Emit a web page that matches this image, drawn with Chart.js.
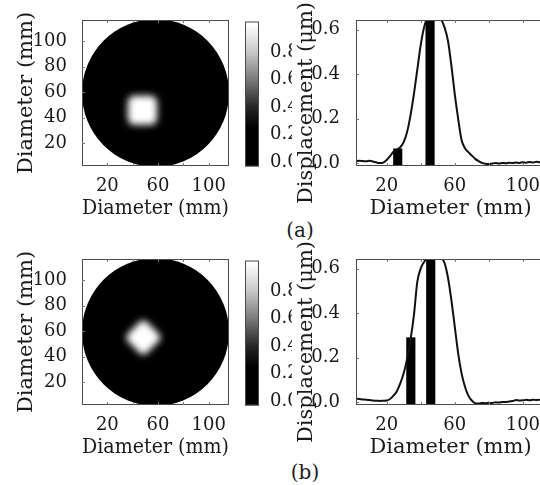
<!DOCTYPE html>
<html>
<head>
<meta charset="utf-8">
<script src="https://cdn.jsdelivr.net/npm/chart.js"></script>
<style>
  body{margin:0;width:540px;height:485px;overflow:hidden;position:relative;background:#fff;}
  .tag{position:absolute;font-family:'DejaVu Serif',serif;font-size:20px;color:#1e1e1e;transform:translate(-50%,-50%);}
</style>
</head>
<body>

<div class="tag" style="left:300px;top:230px">(a)</div>
<div class="tag" style="left:305px;top:472px">(b)</div>

<script>

// =====================
// DATA
// =====================

const diameterTicks = [20, 40, 60, 80, 100];
const diameterLabels = [20, 60, 100];
const colourTicks = [0, 0.2, 0.4, 0.6, 0.8];
const dispTicks = [0, 0.2, 0.4, 0.6];

const mapRangeX = [0, 116];
const mapRangeY = [2, 116.5];
const colourRange = [-0.03, 1.02];
const profileRangeX = [2, 113];
const dispRange = [-0.012, 0.643];

// sample disk (mm)
const diskCentre = [58, 59.25];
const diskRadius = 58;

// bright spot (mm)
const spotCentreA = [47.7, 45.7];
const spotHalfA = 11.5;
const spotCentreB = [48.4, 54.9];
const spotHalfB = 15;
const spotSoftness = 2.9;

// displacement profiles
const profileX = [2,4,6,8,10,12,14,16,18,20,22,24,26,28,30,32,34,36,38,40,
  42,44,46,48,50,52,54,56,58,60,62,64,66,68,70,72,74,76,78,80,
  82,84,86,88,90,92,94,96,98,100,102,104,106,108,110,112];

const profileA = [.010,.011,.010,.009,.011,.008,.004,.001,.003,.015,
  .032,.052,.062,.072,.095,.14,.215,.31,.42,.53,
  .61,.655,.67,.67,.66,.645,.61,.55,.44,.31,
  .20,.105,.068,.05,.035,.02,.01,.002,-.002,-.003,
  -.001,.001,-.001,.002,.000,.003,.001,.004,.002,.005,
  .003,.006,.004,.007,.005,.006];

const profileB = [.016,.015,.013,.012,.010,.008,.007,.006,.007,.008,
  .015,.03,.05,.085,.13,.195,.28,.39,.54,.60,
  .63,.65,.67,.67,.665,.65,.625,.56,.46,.34,
  .22,.13,.07,.03,.008,-.004,-.005,-.003,-.004,-.002,
  -.003,.000,-.001,.002,.001,.004,.006,.01,.008,.009,
  .011,.009,.012,.010,.012,.011];

// marker bars
const markerPosA = [26.5, 45.5];
const markerTopA = [0.065, 0.7];
const markerPosB = [34.2, 45.9];
const markerTopB = [0.29, 0.7];

const colourStops = [[0,'#000'],[0.25,'#000'],[0.4,'#262626'],[0.6,'#7a7a7a'],[0.8,'#c8c8c8'],[1,'#fff']];


// =====================
// DEFAULTS
// =====================

Chart.defaults.font.family = "'DejaVu Serif', serif";
Chart.defaults.font.size = 18;
Chart.defaults.color = '#1a1a1a';
Chart.defaults.animation = false;
Chart.defaults.plugins.legend.display = false;
Chart.defaults.plugins.tooltip.enabled = false;


// =====================
// PLUGINS
// =====================

const framePlugin = {
  id:'frame',
  afterDatasetsDraw(chart){
    const {ctx, chartArea:a, scales} = chart;
    ctx.save();
    ctx.strokeStyle = '#4a4a4a';
    ctx.lineWidth = 1;
    ctx.strokeRect(a.left+0.5, a.top+0.5, a.right-a.left-1, a.bottom-a.top-1);
    if(scales.x.type === 'linear'){
      ctx.strokeStyle = '#777';
      ctx.beginPath();
      scales.x.ticks.forEach(t=>{
        const px = Math.round(scales.x.getPixelForValue(t.value))+0.5;
        ctx.moveTo(px, a.bottom); ctx.lineTo(px, a.bottom-3);
        ctx.moveTo(px, a.top); ctx.lineTo(px, a.top+3);
      });
      scales.y.ticks.forEach(t=>{
        const py = Math.round(scales.y.getPixelForValue(t.value))+0.5;
        ctx.moveTo(a.left, py); ctx.lineTo(a.left+3, py);
      });
      ctx.stroke();
    }
    ctx.restore();
  }
};

function mapPlugin(centre, half, shape){
  return {
    id:'map',
    beforeDatasetsDraw(chart){
      const {ctx, chartArea:a, scales:{x, y}} = chart;
      ctx.save();
      ctx.beginPath();
      ctx.rect(a.left, a.top, a.right-a.left, a.bottom-a.top);
      ctx.clip();

      // disk
      const cx = x.getPixelForValue(diskCentre[0]);
      const cy = y.getPixelForValue(diskCentre[1]);
      const rx = Math.abs(x.getPixelForValue(diskCentre[0]+diskRadius)-cx);
      const ry = Math.abs(y.getPixelForValue(diskCentre[1]+diskRadius)-cy);
      ctx.fillStyle = '#000';
      ctx.beginPath();
      ctx.ellipse(cx, cy, rx, ry, 0, 0, Math.PI*2);
      ctx.fill();

      // spot
      const sx = x.getPixelForValue(centre[0]);
      const sy = y.getPixelForValue(centre[1]);
      const h = Math.abs(x.getPixelForValue(centre[0]+half)-sx);
      const blur = Math.abs(x.getPixelForValue(spotSoftness)-x.getPixelForValue(0));
      ctx.filter = `blur(${blur}px)`;
      ctx.fillStyle = '#fff';
      ctx.translate(sx, sy);
      ctx.beginPath();
      if(shape === 'diamond'){
        const s = h/Math.SQRT2;
        ctx.rotate(Math.PI/4);
        ctx.roundRect(-s, -s, 2*s, 2*s, s*0.35);
      } else {
        ctx.roundRect(-h, -h, 2*h, 2*h, h*0.45);
      }
      ctx.fill();
      ctx.restore();
    }
  };
}


// =====================
// HELPERS
// =====================

function makeCanvas(left, top, w, h){
  const c = document.createElement('canvas');
  c.width = w; c.height = h;
  c.style.cssText = `position:absolute;left:${left}px;top:${top}px;width:${w}px;height:${h}px`;
  document.body.appendChild(c);
  return c;
}

function fixedTicks(list){
  return s => { s.ticks = list.map(v=>({value:v})); };
}

function axisTitle(text, pad){
  return {display:true, text:text, font:{size:21}, padding:pad};
}


// =====================
// HEATMAP
// =====================

function drawMap(top, centre, half, shape){
  new Chart(makeCanvas(0, top, 235, 222), {
    type:'scatter',
    data:{datasets:[{data:[]}]},
    options:{
      responsive:false,
      layout:{padding:{top:20, right:6, left:0, bottom:0}},
      scales:{
        x:{
          type:'linear', min:mapRangeX[0], max:mapRangeX[1],
          afterFit: s=>{ s.height = 56; },
          afterBuildTicks: fixedTicks(diameterTicks),
          grid:{display:false}, border:{display:false},
          ticks:{padding:2, maxRotation:0, autoSkip:false, callback: v => diameterLabels.includes(v) ? String(v) : ''},
          title: axisTitle('Diameter (mm)', {top:0, bottom:1})
        },
        y:{
          type:'linear', min:mapRangeY[0], max:mapRangeY[1],
          afterFit: s=>{ s.width = 82; },
          afterBuildTicks: fixedTicks(diameterTicks),
          grid:{display:false}, border:{display:false},
          ticks:{padding:7, autoSkip:false, callback: v => String(v)},
          title: axisTitle('Diameter (mm)', {top:14, bottom:0})
        }
      }
    },
    plugins:[mapPlugin(centre, half, shape), framePlugin]
  });
}


// =====================
// COLOURBAR
// =====================

function colourFill(chart){
  const y = chart.scales.y;
  if(!chart.chartArea || !y) return '#000';
  const g = chart.ctx.createLinearGradient(0, y.getPixelForValue(0), 0, y.getPixelForValue(1));
  colourStops.forEach(s => g.addColorStop(s[0], s[1]));
  return g;
}

function drawColourbar(top){
  new Chart(makeCanvas(236, top, 56, 222), {
    type:'bar',
    data:{
      labels:[''],
      datasets:[{data:[colourRange], backgroundColor: ctx => colourFill(ctx.chart), barPercentage:1, categoryPercentage:1}]
    },
    options:{
      responsive:false,
      layout:{padding:{left:9, top:21.5, bottom:55.5, right:0}},
      scales:{
        x:{display:false},
        y:{
          position:'right', min:colourRange[0], max:colourRange[1],
          afterFit: s=>{ s.width = 33; },
          afterBuildTicks: fixedTicks(colourTicks),
          grid:{display:false}, border:{display:false},
          ticks:{padding:3, autoSkip:false, callback: v => v.toFixed(1)}
        }
      }
    },
    plugins:[framePlugin]
  });
}


// =====================
// PROFILE
// =====================

function drawProfile(top, values, markerPos, markerTop){
  new Chart(makeCanvas(292, top, 258, 222), {
    type:'line',
    data:{
      datasets:[
        {
          type:'line',
          data: profileX.map((x,i)=>({x:x, y:values[i]})),
          borderColor:'#111', borderWidth:2, pointRadius:0,
          cubicInterpolationMode:'monotone'
        },
        {
          type:'bar',
          data: markerPos.map((x,i)=>({x:x, y:[dispRange[0], markerTop[i]]})),
          backgroundColor:'#000', barThickness:8.5, clip:0
        }
      ]
    },
    options:{
      responsive:false,
      layout:{padding:{top:20, right:5, left:0, bottom:0}},
      scales:{
        x:{
          type:'linear', offset:false, min:profileRangeX[0], max:profileRangeX[1],
          afterFit: s=>{ s.height = 56; },
          afterBuildTicks: fixedTicks(diameterTicks),
          grid:{display:false}, border:{display:false},
          ticks:{padding:2, maxRotation:0, autoSkip:false, callback: v => diameterLabels.includes(v) ? String(v) : ''},
          title: axisTitle('Diameter (mm)', {top:0, bottom:1})
        },
        y:{
          type:'linear', min:dispRange[0], max:dispRange[1],
          afterFit: s=>{ s.width = 64; },
          afterBuildTicks: fixedTicks(dispTicks),
          grid:{display:false}, border:{display:false},
          ticks:{padding:8, autoSkip:false, callback: v => v.toFixed(1)},
          title: axisTitle('Displacement (μm)   ', {top:2, bottom:0})
        }
      }
    },
    plugins:[framePlugin]
  });
}


// =====================
// START
// =====================

drawMap(0, spotCentreA, spotHalfA, 'square');
drawColourbar(0);
drawProfile(0, profileA, markerPosA, markerTopA);

drawMap(239, spotCentreB, spotHalfB, 'diamond');
drawColourbar(239);
drawProfile(239, profileB, markerPosB, markerTopB);

</script>
</body>
</html>
